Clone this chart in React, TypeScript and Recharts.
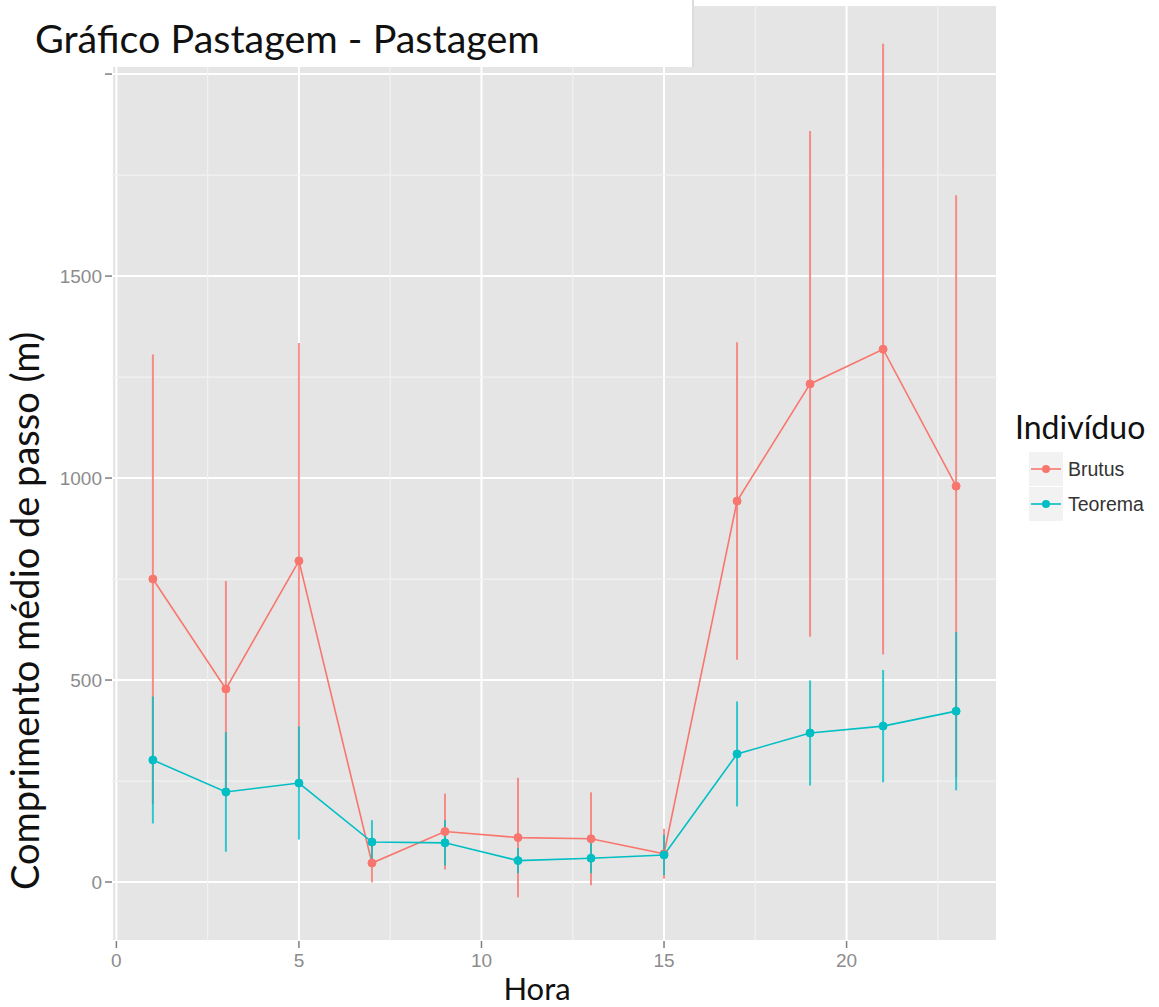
import React from "react";
import {
  ComposedChart, Line, XAxis, YAxis, CartesianGrid, ErrorBar, ReferenceLine
} from "recharts";

const HOURS = [1, 3, 5, 7, 9, 11, 13, 15, 17, 19, 21, 23];
const BRUTUS_MEAN = [750, 478, 795, 47, 125, 110, 107, 70, 943, 1233, 1319, 980];
const BRUTUS_ERR = [556, 267, 539, 48, 94, 148, 115, 62, 393, 626, 756, 720];
const TEOREMA_MEAN = [302, 223, 245, 99, 97, 53, 59, 67, 317, 369, 386, 423];
const TEOREMA_ERR = [157, 148, 140, 54, 56, 31, 37, 50, 130, 130, 139, 196];

const X_TICKS = [0, 5, 10, 15, 20];
const X_MINOR = [2.5, 7.5, 12.5, 17.5, 22.5];
const Y_TICKS = [0, 500, 1000, 1500, 2000];
const Y_MINOR = [250, 750, 1250, 1750];

const SERIES = [
  { key: "brutus", name: "Brutus", color: "#F8766D" },
  { key: "teorema", name: "Teorema", color: "#00BFC4" },
];

const data = HOURS.map((h, i) => ({
  hora: h,
  brutus: BRUTUS_MEAN[i],
  brutusErr: BRUTUS_ERR[i],
  teorema: TEOREMA_MEAN[i],
  teoremaErr: TEOREMA_ERR[i],
}));

const TICK_STYLE = { fontSize: 19, fill: "#8c8c8c", fontFamily: "'Liberation Sans', Arial, sans-serif" };
const TITLE_FONT = "Lato, 'Open Sans', sans-serif";

export default function App() {
  return (
    <div style={{ position: "absolute", left: 0, top: 0, width: 1159, height: 1007, background: "#fff" }}>
      <ComposedChart
        width={1159}
        height={1007}
        data={data}
        margin={{ top: 5, right: 162, bottom: 0, left: 0 }}
      >
        <CartesianGrid fill="#E5E5E5" stroke="#ffffff" strokeWidth={2} />
        {X_MINOR.map((x) => (
          <ReferenceLine key={"vx" + x} x={x} stroke="#F2F2F2" strokeWidth={1.2} />
        ))}
        {Y_MINOR.map((y) => (
          <ReferenceLine key={"hy" + y} y={y} stroke="#F2F2F2" strokeWidth={1.2} />
        ))}
        <XAxis
          dataKey="hora"
          type="number"
          domain={[-0.12, 24.12]}
          ticks={X_TICKS}
          allowDataOverflow
          axisLine={false}
          tickLine={{ stroke: "#7f7f7f", strokeWidth: 1.5 }}
          tickSize={7}
          tickMargin={6}
          tick={TICK_STYLE}
          height={66}
        />
        <YAxis
          type="number"
          domain={[-146, 2171]}
          ticks={Y_TICKS}
          allowDataOverflow
          axisLine={false}
          tickLine={{ stroke: "#7f7f7f", strokeWidth: 1.5 }}
          tickSize={7}
          tickMargin={3}
          tick={TICK_STYLE}
          tickFormatter={(v: number) => (v === 2000 ? "" : String(v))}
          width={112}
        />
        {SERIES.map((s) => (
          <Line
            key={s.key}
            dataKey={s.key}
            name={s.name}
            stroke={s.color}
            strokeWidth={1.6}
            dot={{ r: 4, fill: s.color, stroke: s.color, strokeWidth: 1 }}
            activeDot={false}
            isAnimationActive={false}
          >
            <ErrorBar
              dataKey={s.key + "Err"}
              direction="y"
              width={0}
              stroke={s.color}
              strokeWidth={2}
              strokeOpacity={0.8}
              isAnimationActive={false}
            />
          </Line>
        ))}
      </ComposedChart>

      <svg
        width={1159}
        height={1007}
        style={{ position: "absolute", left: 0, top: 0, pointerEvents: "none" }}
      >
        {/* caixa branca do titulo */}
        <rect x={0} y={0} width={693} height={67} fill="#ffffff" />
        <line x1={693} y1={0} x2={693} y2={67} stroke="#dcdcdc" strokeWidth={2} />
        <text x={35} y={53} fontFamily={TITLE_FONT} fontSize={39.5} fill="#111">
          Gráfico Pastagem - Pastagem
        </text>

        <text
          x={39}
          y={611}
          transform="rotate(-90 39 611)"
          textAnchor="middle"
          fontFamily={TITLE_FONT}
          fontSize={38}
          fill="#111"
        >
          Comprimento médio de passo (m)
        </text>

        <text x={537} y={1000} textAnchor="middle" fontFamily={TITLE_FONT} fontSize={31} fill="#111">
          Hora
        </text>

        {/* legenda */}
        <text x={1015} y={439} fontFamily={TITLE_FONT} fontSize={32} fill="#111">
          Indivíduo
        </text>
        {SERIES.map((s, i) => {
          const cy = 469 + i * 35;
          return (
            <g key={s.key}>
              <rect x={1029} y={cy - 17} width={34} height={34} fill="#F2F2F2" />
              <line x1={1031} y1={cy} x2={1061} y2={cy} stroke={s.color} strokeWidth={1.6} />
              <circle cx={1046} cy={cy} r={4} fill={s.color} />
              <text
                x={1068}
                y={cy + 7}
                fontFamily="'Liberation Sans', Arial, sans-serif"
                fontSize={19.5}
                fill="#333"
              >
                {s.name}
              </text>
            </g>
          );
        })}
      </svg>
    </div>
  );
}
